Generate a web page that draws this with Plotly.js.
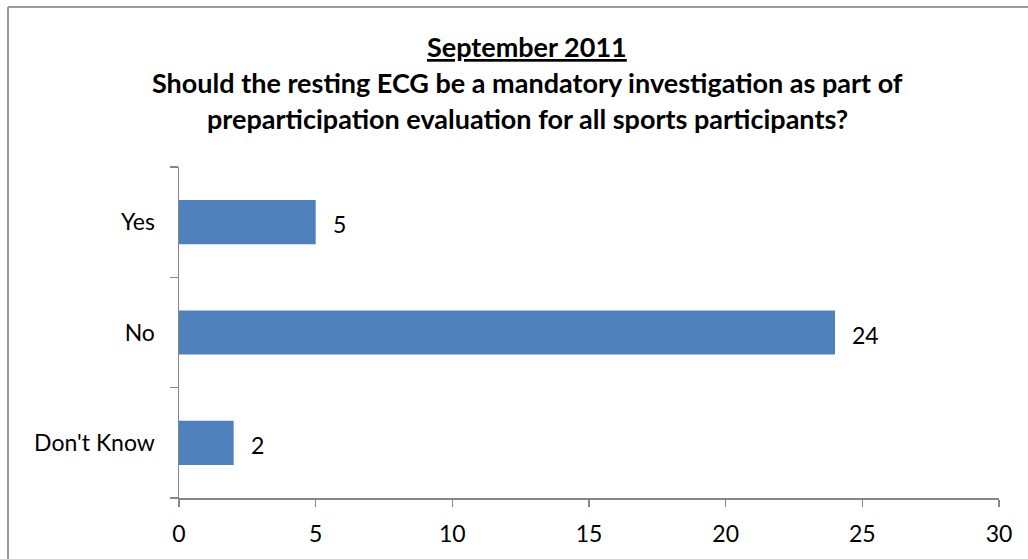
<!DOCTYPE html>
<html>
<head>
<meta charset="utf-8">
<script src="https://cdn.plot.ly/plotly-3.0.1.min.js"></script>
<style>html,body{margin:0;padding:0;background:#fff;}#chart{width:1028px;height:559px;}</style>
</head>
<body>
<div id="chart"></div>
<script>
const categories = ["Yes", "No", "Don't Know"];
const values = [5, 24, 2];
const xTicks = [0, 5, 10, 15, 20, 25, 30];
const titleLines = ["<b><u>September 2011</u></b>",
  "<b>Should the resting ECG be a mandatory investigation as part of</b>",
  "<b>preparticipation evaluation for all sports participants?</b>"];

const FONT = "Lato, 'Open Sans', sans-serif";
const W = 820, H = 331, L = 179, T = 167;
const px = x => (x - L) / W;
const py = y => (T + H - y) / H;

const trace = {
  type: 'bar', orientation: 'h',
  x: values, y: categories,
  marker: {color: '#4F81BD', line: {width: 0}},
  hoverinfo: 'none'
};

const annotations = values.map((v, i) => ({
  x: v, y: categories[i], xref: 'x', yref: 'y',
  text: String(v), showarrow: false, xanchor: 'left', yanchor: 'middle',
  xshift: 15, yshift: -2, font: {family: FONT, size: 23, color: '#000'}
}));
const titleY = [46, 82, 118];
titleLines.forEach((t, i) => annotations.push({
  x: px(527), y: py(titleY[i]), xref: 'paper', yref: 'paper',
  text: t, showarrow: false, xanchor: 'center', yanchor: 'middle',
  font: {family: FONT, size: 27, color: '#000'}
}));

const layout = {
  width: 1028, height: 559,
  margin: {l: L, r: 1028 - L - W, t: T, b: 559 - T - H, pad: 0},
  paper_bgcolor: '#fff', plot_bgcolor: '#fff',
  showlegend: false,
  bargap: 0.6,
  font: {family: FONT, size: 23, color: '#000'},
  xaxis: {
    range: [0, 30], tickvals: xTicks, ticktext: xTicks.map(String),
    showgrid: false, zeroline: false, showline: true, linecolor: '#868686', linewidth: 1.5,
    ticks: 'outside', ticklen: 7, tickwidth: 1.5, tickcolor: '#868686',
    tickfont: {family: FONT, size: 23, color: '#000'}, ticklabelstandoff: 8, fixedrange: true
  },
  yaxis: {
    categoryorder: 'array', categoryarray: categories.slice().reverse(),
    autorange: false, range: [-0.5, 2.5],
    showgrid: false, zeroline: false, showline: true, linecolor: '#868686', linewidth: 1.5,
    ticks: 'outside', tickson: 'boundaries', ticklen: 8, tickwidth: 1.5, tickcolor: '#868686',
    tickfont: {family: FONT, size: 23, color: '#000'}, ticklabelstandoff: 18, fixedrange: true
  },
  annotations: annotations,
  shapes: [
    {type: 'line', xref: 'paper', yref: 'paper', x0: px(8), x1: px(8), y0: py(7), y1: py(600), line: {color: '#9a9a9a', width: 2}},
    {type: 'line', xref: 'paper', yref: 'paper', x0: px(8), x1: px(1040), y0: py(7), y1: py(7), line: {color: '#9a9a9a', width: 2}}
  ]
};

Plotly.newPlot('chart', [trace], layout, {staticPlot: true, displayModeBar: false});
</script>
</body>
</html>
